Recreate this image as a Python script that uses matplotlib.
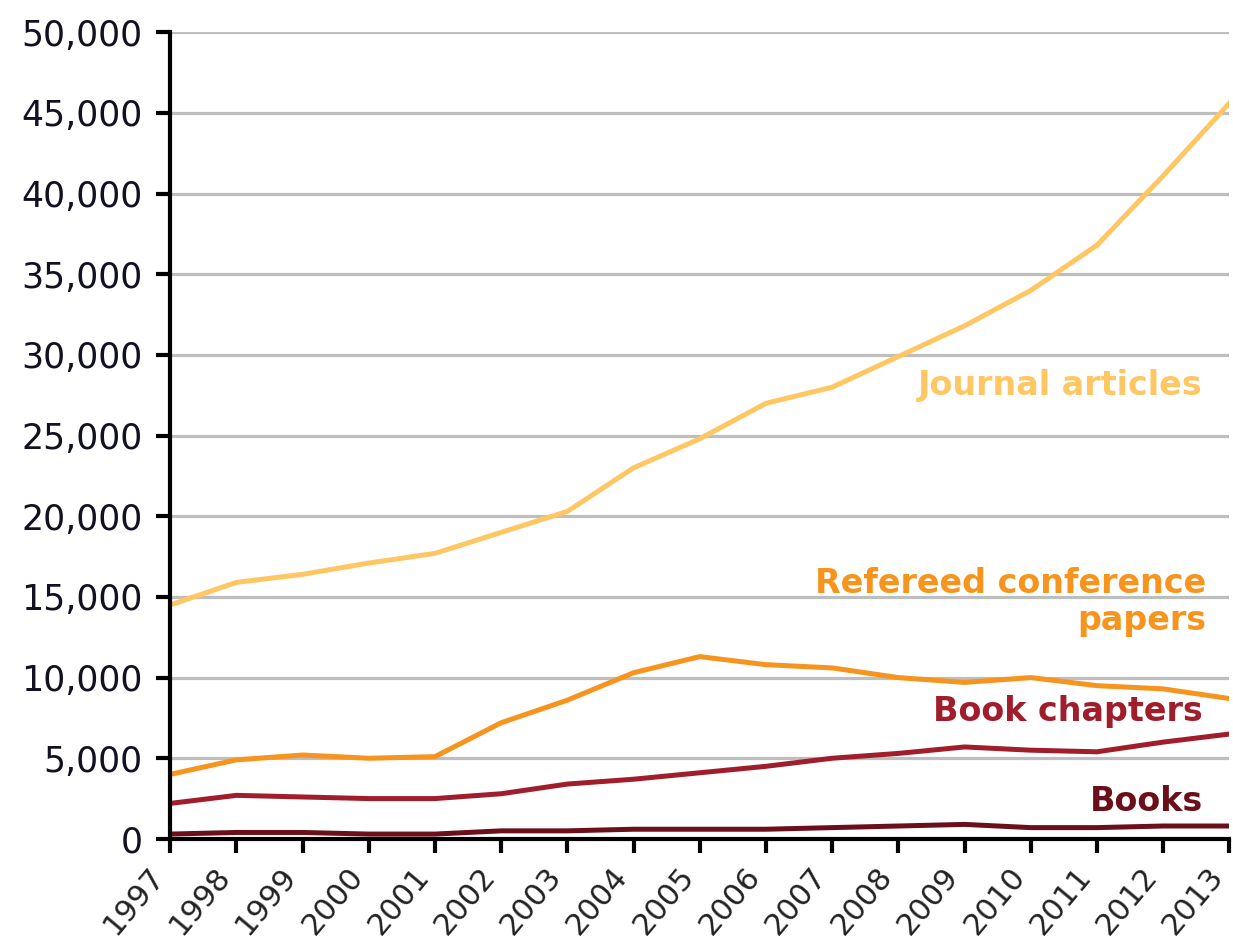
import numpy as np
import matplotlib.pyplot as plt

years = list(range(1997, 2014))
journal = [14500, 15900, 16400, 17100, 17700, 19000, 20300, 23000, 24800,
           27000, 28000, 29900, 31800, 34000, 36800, 41100, 45600]
conference = [4000, 4900, 5200, 5000, 5100, 7200, 8600, 10300, 11300,
              10800, 10600, 10000, 9700, 10000, 9500, 9300, 8700]
chapters = [2200, 2700, 2600, 2500, 2500, 2800, 3400, 3700, 4100,
            4500, 5000, 5300, 5700, 5500, 5400, 6000, 6500]
books = [300, 400, 400, 300, 300, 500, 500, 600, 600,
         600, 700, 800, 900, 700, 700, 800, 800]

c_journal = '#FFC763'
c_conf = '#F7941D'
c_chap = '#A01E2B'
c_books = '#6B0F1A'

fig = plt.figure(figsize=(12.33, 9.49), dpi=100)
ax = fig.add_axes([0.138, 0.116, 0.859, 0.850])

ax.plot(years, journal, color=c_journal, lw=3.6)
ax.plot(years, conference, color=c_conf, lw=3.6)
ax.plot(years, chapters, color=c_chap, lw=3.6)
ax.plot(years, books, color=c_books, lw=3.6)

ax.set_xlim(1997, 2013)
ax.set_ylim(0, 50000)
ax.set_yticks(np.arange(0, 50001, 5000))
ax.set_yticklabels(['{:,}'.format(v) for v in range(0, 50001, 5000)],
                   fontsize=25, color='#111122')
ax.set_xticks(years)
# bottom-anchored so the rotated label stays left of its tick (keeps 2013 inside)
ax.set_xticklabels([str(y) for y in years], fontsize=22, rotation=50,
                   ha='right', va='bottom', rotation_mode='anchor',
                   color='#222222')

ax.grid(axis='y', color='#BEBEBE', lw=2.3)
ax.set_axisbelow(True)
for s in ['top', 'right']:
    ax.spines[s].set_visible(False)
for s in ['left', 'bottom']:
    ax.spines[s].set_linewidth(3)
ax.tick_params(axis='both', length=10, width=3, direction='out')
ax.tick_params(axis='y', pad=10)
ax.tick_params(axis='x', pad=20)

lab = dict(fontsize=24, fontweight='bold', ha='right', va='center')
ax.text(2012.6, 28100, 'Journal articles', color=c_journal, **lab)
ax.text(2012.65, 14700, 'Refereed conference\npapers', color=c_conf,
        multialignment='right', linespacing=1.15, **lab)
ax.text(2012.6, 7900, 'Book chapters', color=c_chap, **lab)
ax.text(2012.6, 2350, 'Books', color=c_books, **lab)

fig.savefig('out.png', dpi=100)
